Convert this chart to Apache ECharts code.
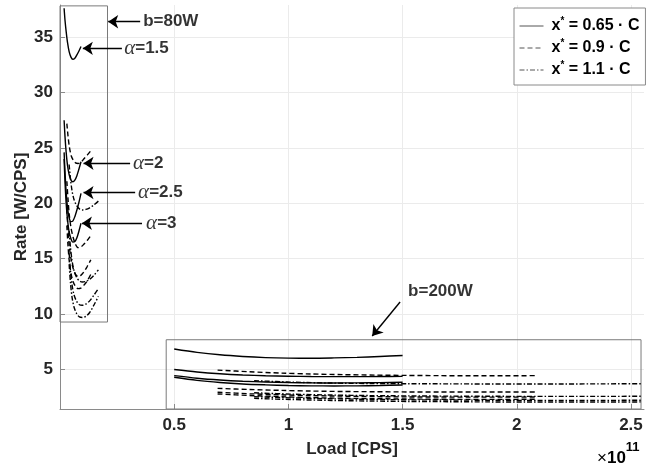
<!DOCTYPE html>
<html><head><meta charset="utf-8">
<script src="https://cdn.jsdelivr.net/npm/echarts@6/dist/echarts.min.js"></script>
<style>html,body{margin:0;padding:0;background:#fff}#c{width:666px;height:465px}</style>
</head><body><div id="c"></div>
<script>
// ---------- data ----------
const alphas = ['1.5', '2', '2.5', '3'];
const xTicks = [0.5, 1, 1.5, 2, 2.5];
const yTicks = [5, 10, 15, 20, 25, 30, 35];

// b = 80W group (x in 1e11 CPS)
const s80x = [0.018, 0.022, 0.027, 0.033, 0.040, 0.048, 0.056, 0.065, 0.074, 0.083, 0.092];
const d80x = [0.030, 0.035, 0.041, 0.049, 0.058, 0.068, 0.079, 0.091, 0.104, 0.119, 0.135];
const c80x = [0.040, 0.046, 0.053, 0.062, 0.073, 0.085, 0.098, 0.113, 0.130, 0.148, 0.168];
const s80y = [
  [37.6, 36.5, 35.5, 34.5, 33.7, 33.2, 33.0, 33.1, 33.4, 33.75, 34.15],
  [27.5, 26.0, 24.6, 23.4, 22.6, 22.1, 21.95, 22.1, 22.5, 23.1, 23.75],
  [24.6, 22.8, 21.0, 19.6, 18.7, 18.35, 18.4, 18.8, 19.4, 20.1, 20.9],
  [24.0, 21.9, 20.0, 18.5, 17.4, 16.8, 16.5, 16.55, 16.9, 17.5, 18.2]
];
const d80y = [
  [27.2, 26.1, 25.1, 24.3, 23.9, 23.65, 23.6, 23.7, 24.0, 24.35, 24.75],
  [22.0, 20.4, 18.9, 17.7, 16.9, 16.3, 16.0, 16.05, 16.3, 16.65, 17.1],
  [19.5, 17.7, 16.1, 14.9, 14.1, 13.6, 13.4, 13.5, 13.8, 14.3, 14.9],
  [18.0, 16.2, 14.7, 13.6, 12.9, 12.5, 12.3, 12.35, 12.6, 13.0, 13.6]
];
const c80y = [
  [23.5, 22.2, 21.1, 20.3, 19.8, 19.5, 19.4, 19.45, 19.6, 19.85, 20.2],
  [17.5, 16.0, 14.8, 13.9, 13.3, 13.0, 12.9, 12.95, 13.15, 13.5, 14.0],
  [15.5, 13.9, 12.6, 11.7, 11.15, 10.85, 10.8, 10.9, 11.2, 11.7, 12.3],
  [14.5, 12.8, 11.5, 10.6, 10.05, 9.75, 9.7, 9.8, 10.15, 10.8, 11.6]
];

// b = 200W group
const s200x = [0.5, 0.6, 0.7, 0.8, 0.9, 1.0, 1.1, 1.2, 1.3, 1.4, 1.5];
const d200x = [0.69, 0.83, 0.97, 1.1, 1.24, 1.38, 1.52, 1.66, 1.8, 1.94, 2.08];
const c200x = [0.85, 1.02, 1.19, 1.36, 1.53, 1.7, 1.87, 2.04, 2.21, 2.38, 2.55];
const s200y = [
  [6.85, 6.55, 6.33, 6.18, 6.08, 6.03, 6.02, 6.05, 6.1, 6.18, 6.27],
  [5.0, 4.78, 4.62, 4.51, 4.44, 4.4, 4.37, 4.36, 4.36, 4.37, 4.38],
  [4.45, 4.22, 4.06, 3.95, 3.88, 3.83, 3.8, 3.79, 3.8, 3.82, 3.85],
  [4.3, 4.02, 3.83, 3.7, 3.62, 3.56, 3.53, 3.52, 3.53, 3.56, 3.6]
];
const d200y = [
  [4.95, 4.8, 4.68, 4.6, 4.54, 4.5, 4.47, 4.45, 4.44, 4.44, 4.45],
  [3.3, 3.2, 3.12, 3.06, 3.02, 3.0, 2.98, 2.97, 2.97, 2.97, 2.98],
  [2.95, 2.82, 2.72, 2.65, 2.6, 2.56, 2.53, 2.52, 2.51, 2.51, 2.52],
  [2.8, 2.66, 2.55, 2.47, 2.41, 2.37, 2.34, 2.32, 2.31, 2.31, 2.32]
];
const c200y = [
  [4.0, 3.86, 3.78, 3.74, 3.72, 3.71, 3.7, 3.7, 3.7, 3.71, 3.72],
  [2.9, 2.78, 2.7, 2.65, 2.62, 2.6, 2.59, 2.58, 2.58, 2.58, 2.59],
  [2.55, 2.44, 2.36, 2.31, 2.27, 2.25, 2.23, 2.22, 2.22, 2.22, 2.23],
  [2.4, 2.29, 2.21, 2.16, 2.12, 2.1, 2.08, 2.07, 2.07, 2.07, 2.08]
];

// inset boxes [xmin, xmax, ymin, ymax]
const box80 = [0.0, 0.208, 9.29, 37.82];
const box200 = [0.465, 2.544, 1.44, 7.69];

// annotations: text anchor [x, y] and arrows [[x0,y0],[x1,y1]]
const annoText = ['b=80W', 'α=1.5', 'α=2', 'α=2.5', 'α=3', 'b=200W'];
const annoPos = [[0.364, 36.39], [0.281, 33.99], [0.32, 23.61], [0.342, 20.96], [0.377, 18.2], [1.524, 12.09]];
const arrows = [
  [[0.351, 36.39], [0.211, 36.39]],
  [[0.271, 33.99], [0.100, 33.99]],
  [[0.307, 23.61], [0.103, 23.61]],
  [[0.329, 20.96], [0.103, 20.96]],
  [[0.359, 18.2], [0.096, 18.2]],
  [[1.489, 11.1], [1.367, 8.03]]
];
const legendNames = ['x* = 0.65 · C', 'x* = 0.9 · C', 'x* = 1.1 · C'];

// ---------- build ----------
const SANS = 'Arial, "Liberation Sans", Helvetica, sans-serif';
const styles = [
  {type: 'solid'},
  {type: [5, 3]},
  {type: [5, 2, 1.5, 2]}
];
const groups = [
  [s80x, s80y, 0], [d80x, d80y, 1], [c80x, c80y, 2],
  [s200x, s200y, 0], [d200x, d200y, 1], [c200x, c200y, 2]
];
const series = [];
groups.forEach((g, gi) => {
  g[1].forEach((ys, ai) => {
    series.push({
      type: 'line', name: 'curve' + gi + '_' + alphas[ai],
      data: ys.map((y, i) => [g[0][i], y]),
      symbol: 'none', silent: true, smooth: 0.3, color: '#000',
      lineStyle: {color: '#000', width: 1.4, type: styles[g[2]].type},
      z: 3
    });
  });
});
function boxData(b) {
  return [[b[0], b[2]], [b[1], b[2]], [b[1], b[3]], [b[0], b[3]], [b[0], b[2]]];
}
[box80, box200].forEach((b, i) => {
  series.push({
    type: 'line', name: 'box' + i, data: boxData(b), symbol: 'none', silent: true, color: '#7a7a7a',
    lineStyle: {color: '#7a7a7a', width: 1}, z: 2
  });
});
// legend dummy series
legendNames.forEach((n, i) => {
  series.push({
    type: 'line', name: n, data: [], symbol: 'none', color: '#555',
    lineStyle: {color: '#555', width: 1, type: styles[i].type}
  });
});
// annotations
series.push({
  type: 'scatter', name: 'anno', silent: true, symbolSize: 0,
  data: annoPos.map((p, i) => ({value: p, txt: annoText[i]})),
  label: {
    show: true, position: 'right', distance: 0,
    formatter: p => {
      const t = p.data.txt;
      if (t.startsWith('α')) return '{a|α}{t|' + t.slice(1) + '}';
      return '{t|' + t + '}';
    },
    rich: {
      a: {fontFamily: '"Liberation Serif", "DejaVu Serif", serif', fontStyle: 'italic', fontSize: 21, color: '#000'},
      t: {fontFamily: SANS, fontWeight: 'bold', fontSize: 17, color: '#000'}
    }
  },
  markLine: {
    silent: true, animation: false,
    symbol: ['none', 'arrow'], symbolSize: 10,
    label: {show: false},
    lineStyle: {color: '#000', width: 1.4, type: 'solid'},
    data: arrows.map(a => [{coord: a[0]}, {coord: a[1]}])
  }
});

const chart = echarts.init(document.getElementById('c'), null, {renderer: 'canvas'});
chart.setOption({
  animation: false,
  backgroundColor: '#fff',
  grid: {left: 60, right: 22, top: 5, bottom: 56, containLabel: false},
  xAxis: {
    type: 'value', min: 0, max: 2.557,
    name: 'Load [CPS]', nameLocation: 'middle', nameGap: 32, nameMoveOverlap: false,
    nameTextStyle: {fontFamily: SANS, fontWeight: 'bold', fontSize: 17, color: '#262626'},
    axisLine: {show: true, onZero: false, lineStyle: {color: '#8a8a8a', width: 1}},
    axisTick: {show: true, inside: true, length: 5, customValues: xTicks, lineStyle: {color: '#8a8a8a'}},
    axisLabel: {customValues: xTicks, fontFamily: SANS, fontWeight: 'bold', fontSize: 17, color: '#262626', margin: 8},
    splitLine: {show: true, lineStyle: {color: '#ebebeb', width: 1}}
  },
  yAxis: {
    type: 'value', min: 1.44, max: 37.9,
    name: 'Rate [W/CPS]', nameLocation: 'middle', nameGap: 30, nameMoveOverlap: false,
    nameTextStyle: {fontFamily: SANS, fontWeight: 'bold', fontSize: 17, color: '#262626'},
    axisLine: {show: true, onZero: false, lineStyle: {color: '#8a8a8a', width: 1}},
    axisTick: {show: true, inside: true, length: 5, customValues: yTicks, lineStyle: {color: '#8a8a8a'}},
    axisLabel: {customValues: yTicks, fontFamily: SANS, fontWeight: 'bold', fontSize: 17, color: '#262626', margin: 7},
    splitLine: {show: true, lineStyle: {color: '#ebebeb', width: 1}}
  },
  legend: {
    data: legendNames, orient: 'vertical', left: 514, top: 8,
    backgroundColor: '#fff', borderColor: '#8a8a8a', borderWidth: 1,
    padding: [8, 6, 7, 5], itemGap: 4, itemWidth: 24, itemHeight: 14,
    selectedMode: false,
    itemStyle: {opacity: 0},
    lineStyle: {width: 1, color: '#555'},
    formatter: n => {
      const rest = n.slice(2);
      return '{x|x}{s|*}{t|' + rest + '}';
    },
    textStyle: {
      rich: {
        x: {fontFamily: SANS, fontWeight: 'bold', fontSize: 16, color: '#000', padding: [0, 0, 0, 3], lineHeight: 20},
        s: {fontFamily: SANS, fontWeight: 'bold', fontSize: 10, color: '#000', verticalAlign: 'top', lineHeight: 20},
        t: {fontFamily: SANS, fontWeight: 'bold', fontSize: 16, color: '#000', lineHeight: 20}
      }
    }
  },
  graphic: [{
    type: 'text', left: 597, top: 441,
    style: {
      text: '{m|×}{b|10}{s|11}',
      rich: {
        m: {fontFamily: SANS, fontSize: 17, color: '#262626', verticalAlign: 'bottom', lineHeight: 26},
        b: {fontFamily: SANS, fontWeight: 'bold', fontSize: 17, color: '#262626', verticalAlign: 'bottom', lineHeight: 26},
        s: {fontFamily: SANS, fontWeight: 'bold', fontSize: 13, color: '#262626', verticalAlign: 'top', lineHeight: 26}
      }
    }
  }],
  series: series
});
</script>
</body></html>
